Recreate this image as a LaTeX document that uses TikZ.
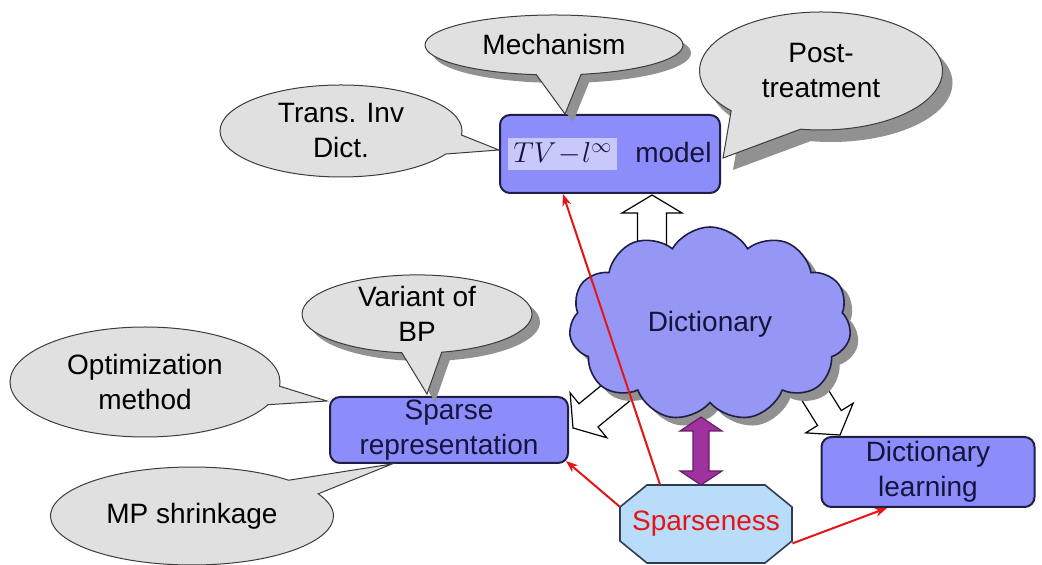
\documentclass[tikz,border=0pt]{standalone}
\usepackage{fontspec}
\setmainfont{Liberation Sans}
\usetikzlibrary{shapes.callouts,shapes.symbols,shadows,arrows.meta,calc}
\definecolor{calloutfill}{RGB}{224,224,224}
\definecolor{calloutline}{RGB}{60,60,60}
\definecolor{shadowgray}{RGB}{145,145,145}
\definecolor{boxfill}{RGB}{140,140,250}
\definecolor{boxline}{RGB}{30,30,70}
\definecolor{boxtext}{RGB}{20,20,60}
\definecolor{cloudfill}{RGB}{150,150,245}
\definecolor{hl}{RGB}{200,200,250}
\definecolor{octfill}{RGB}{185,220,250}
\definecolor{octline}{RGB}{50,60,80}
\definecolor{purplefill}{RGB}{160,50,160}
\definecolor{purpleline}{RGB}{100,30,100}
\definecolor{redc}{RGB}{230,20,20}
\tikzset{
  every node/.style={font=\fontsize{14}{17.5}\selectfont},
  bluebox/.style={rectangle, rounded corners=5pt, draw=boxline, line width=1pt, fill=boxfill, text=boxtext, align=center, inner sep=0pt},
  callout/.style={ellipse callout, draw=calloutline, fill=calloutfill, line width=0.5pt, align=center, inner sep=0pt, text=black, callout pointer arc=20},
  shadowed/.style={drop shadow={shadow xshift=4pt, shadow yshift=-4pt, fill=shadowgray, opacity=1}},
  bigshadow/.style={drop shadow={shadow xshift=5pt, shadow yshift=-6pt, fill=shadowgray, opacity=1}},
  blockarrow/.style={draw=black, fill=white, line width=0.6pt, line join=miter},
  redarrow/.style={draw=redc, line width=1pt, -{Stealth[length=6pt,width=4.5pt]}},
}
\begin{document}
\begin{tikzpicture}[x=0.5pt,y=-0.5pt]
\useasboundingbox (0,0) rectangle (1042,565);

% main boxes
\node[bluebox, minimum width=110pt, minimum height=39pt] (tv) at (610,154)
  {\setlength{\fboxsep}{2.5pt}\colorbox{hl}{$TV\!-\!l^{\infty}$}\hspace{9pt}model};
\node[bluebox, minimum width=119pt, minimum height=33pt] (sr) at (449,430) {Sparse\\representation};
\node[bluebox, minimum width=106.5pt, minimum height=35pt] (dl) at (928,472) {Dictionary\\learning};

% white block arrows from the cloud
\begin{scope}[shift={(652,195)}, rotate=90]
  \draw[blockarrow] (0,0) -- (-18,30) -- (-18,14.5) -- (-70,14.5) -- (-70,-14.5) -- (-18,-14.5) -- (-18,-30) -- cycle;
\end{scope}
\begin{scope}[shift={(573,428)}, rotate=219.3]
  \draw[blockarrow] (0,0) -- (-20,29) -- (-20,15) -- (-85,15) -- (-85,-15) -- (-20,-15) -- (-20,-29) -- cycle;
\end{scope}
\begin{scope}[shift={(840,435)}, rotate=-58]
  \draw[blockarrow] (0,0) -- (-20,28) -- (-20,14) -- (-85,14) -- (-85,-14) -- (-20,-14) -- (-20,-28) -- cycle;
\end{scope}

% cloud
\node[cloud, cloud puffs=11, cloud puff arc=120, aspect=1.5, draw=boxline, fill=cloudfill,
      line width=0.8pt, minimum width=141pt, minimum height=97pt, text=boxtext,
      drop shadow={shadow xshift=4pt, shadow yshift=-4pt, fill=shadowgray, opacity=1}] (dict) at (710,324) {Dictionary};

% sparseness octagon
\filldraw[fill=octfill, draw=octline, line width=0.8pt]
  (647,485) -- (765,485) -- (792,507) -- (792,541) -- (765,563) -- (647,563) -- (620,541) -- (620,507) -- cycle;
\node[minimum width=86pt, minimum height=39pt, inner sep=0pt, text=redc] (sp) at (706,524) {Sparseness};

% purple double arrow
\filldraw[fill=purplefill, draw=purpleline, line width=0.6pt]
  (701,417) -- (722,431) -- (709,431) -- (709,471) -- (722,471) -- (701,485)
  -- (680,471) -- (693,471) -- (693,431) -- (680,431) -- cycle;

% red arrows
\draw[redarrow] ($(sp.north)+(-46,0)$) -- ($(tv.south)+(-47,0)$);
\draw[redarrow] ($(sp.north west)+(0,22)$) -- ($(sr.south east)+(-3,-3)$);
\draw[redarrow] ($(sp.south east)+(0,-20)$) -- ($(dl.south)+(-41,0)$);

% callout pointer targets
\coordinate (pmech) at ($(tv.north)+(-45,0)$);
\coordinate (ptrans) at ($(tv.west)+(0,-4)$);
\coordinate (ppost) at ($(tv.east)+(2,4)$);
\coordinate (pvar) at ($(sr.north)+(-22,-2)$);
\coordinate (popt) at ($(sr.north west)+(-2,5)$);
\coordinate (pmp) at ($(sr.south)+(-57,0)$);

% callouts
\node[callout, shadowed, minimum width=129pt, minimum height=30pt, callout absolute pointer={(pmech)}] (mech) at (554,45) {Mechanism};
\node[callout, callout pointer arc=25, minimum width=121pt, minimum height=46pt, callout absolute pointer={(ptrans)}] (trans) at (341,131) {Trans. Inv\\Dict.};
\node[callout, bigshadow, callout pointer arc=38, minimum width=121.5pt, minimum height=59pt, callout absolute pointer={(ppost)}] (post) at (821,71) {Post-\\treatment};
\node[callout, shadowed, minimum width=115pt, minimum height=39pt, callout absolute pointer={(pvar)}] (var) at (417,314) {Variant of\\BP};
\node[callout, minimum width=135pt, minimum height=55pt, callout absolute pointer={(popt)}] (opt) at (145,382) {Optimization\\method};
\node[callout, minimum width=141.5pt, minimum height=49pt, callout absolute pointer={(pmp)}] (mp) at (192,516) {MP shrinkage};
\end{tikzpicture}
\end{document}
